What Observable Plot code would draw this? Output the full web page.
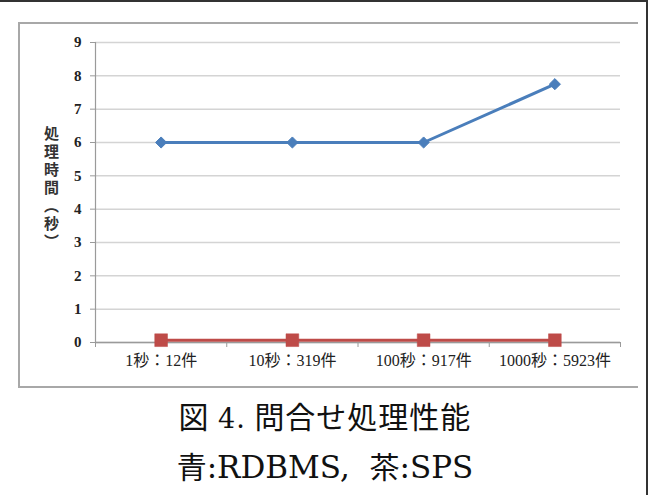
<!DOCTYPE html>
<html>
<head>
<meta charset="utf-8">
<script src="https://cdn.jsdelivr.net/npm/d3@7"></script>
<script src="https://cdn.jsdelivr.net/npm/@observablehq/plot@0.6"></script>
<style>
  html, body { margin: 0; padding: 0; background: #fff; }
  #wrap { position: relative; width: 650px; height: 495px; overflow: hidden; background: #fff; }
  #outer { position: absolute; left: 0; top: 0; width: 646px; height: 493px; border-top: 2px solid #333; border-right: 2px solid #333; }
  #box { position: absolute; left: 18px; top: 22px; width: 618px; height: 362px; border-left: 2px solid #a8a8a8; border-top: 2px solid #a8a8a8; border-bottom: 2px solid #a8a8a8; }
  #chart { position: absolute; left: 0; top: 0; }
  #ylab { position: absolute; left: 41px; top: 126px; writing-mode: vertical-rl; font-family: "Noto Sans CJK JP", sans-serif; font-weight: bold; font-size: 15px; letter-spacing: 3px; color: #333; }
  #caption { position: absolute; left: 0; top: 393px; width: 650px; text-align: center; color: #111; }
  .cjk { font-family: "Noto Sans CJK JP", sans-serif; }
  .ser { font-family: "DejaVu Serif", serif; }
  #caption .l1 { font-size: 30px; line-height: 44px; letter-spacing: 1px; }
  #caption .l1 .ser { font-size: 27px; }
  #caption .l2 { font-size: 31px; line-height: 48px; }
  #caption .l2 .cjk { font-size: 30px; }
</style>
</head>
<body>
<div id="wrap">
  <div id="outer"></div>
  <div id="box"></div>
  <div id="chart"></div>
  <div id="ylab">処理時間（秒）</div>
  <div id="caption">
    <div class="l1"><span class="cjk">図</span> <span class="ser">4.</span> <span class="cjk">問合せ処理性能</span></div>
    <div class="l2"><span class="cjk">青</span><span class="ser">:RDBMS,&nbsp;&nbsp;</span><span class="cjk">茶</span><span class="ser">:SPS</span></div>
  </div>
</div>
<script>
const categories = ["1秒：12件", "10秒：319件", "100秒：917件", "1000秒：5923件"];
const rdbms = [6, 6, 6, 7.75];
const sps = [0.07, 0.07, 0.07, 0.07];
const yTicks = [0, 1, 2, 3, 4, 5, 6, 7, 8, 9];
const xBounds = [-0.5, 0.5, 1.5, 2.5, 3.5];
const catIndex = categories.map((c, i) => i);

const rows = [
  ...categories.map((c, i) => ({i, v: rdbms[i], s: "RDBMS"})),
  ...categories.map((c, i) => ({i, v: sps[i], s: "SPS"}))
];
const blue = "#4a7ebb", red = "#be4b48";
const font = "'Times New Roman', 'Liberation Serif', 'DejaVu Serif', 'Noto Sans CJK JP', serif";

const chart = Plot.plot({
  width: 650,
  height: 390,
  marginLeft: 95,
  marginRight: 30,
  marginTop: 42,
  marginBottom: 48,
  style: {background: "transparent", fontFamily: font, fontSize: "14px"},
  x: {type: "linear", domain: [-0.5, 3.5]},
  y: {domain: [0, 9]},
  marks: [
    Plot.gridY(yTicks, {stroke: "#d4d4d4", strokeOpacity: 1, strokeWidth: 1.5}),
    Plot.ruleX([-0.5], {stroke: "#9a9a9a", strokeWidth: 1.2}),
    Plot.ruleY([0], {stroke: "#9a9a9a", strokeWidth: 1.5}),
    Plot.axisY(yTicks, {tickSize: 5, tickPadding: 9, stroke: "#9a9a9a", fill: "#222", fontSize: 15, fontWeight: "bold", label: null}),
    Plot.axisX(xBounds, {tickSize: 5, tickFormat: () => "", stroke: "#9a9a9a", label: null}),
    Plot.axisX(catIndex, {tickSize: 0, tickPadding: 12, tickFormat: i => categories[i], fill: "#222", fontSize: 16, label: null}),
    Plot.line(rows.filter(d => d.s === "RDBMS"), {x: "i", y: "v", stroke: blue, strokeWidth: 3}),
    Plot.line(rows.filter(d => d.s === "SPS"), {x: "i", y: "v", stroke: red, strokeWidth: 3}),
    Plot.dot(rows.filter(d => d.s === "RDBMS"), {x: "i", y: "v", symbol: "diamond2", r: 5, fill: blue, stroke: blue, strokeWidth: 1}),
    Plot.dot(rows.filter(d => d.s === "SPS"), {x: "i", y: "v", symbol: "square", r: 7.2, fill: red, stroke: red, strokeWidth: 0.5})
  ]
});
document.getElementById("chart").appendChild(chart);
</script>
</body>
</html>
